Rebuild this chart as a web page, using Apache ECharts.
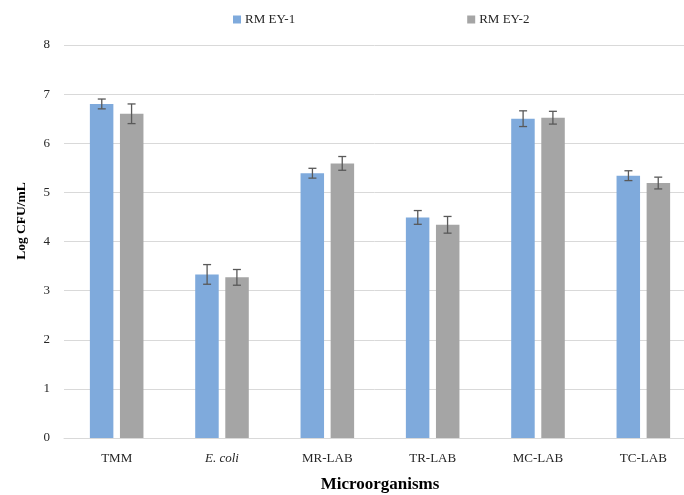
<!DOCTYPE html>
<html>
<head>
<meta charset="utf-8">
<script src="https://cdn.jsdelivr.net/npm/echarts@6/dist/echarts.min.js"></script>
<style>
html,body{margin:0;padding:0;background:#fff;overflow:hidden;}
#chart{width:684px;height:495px;}
</style>
</head>
<body>
<div id="chart"></div>
<script>
var categories = ['TMM', 'E. coli', 'MR-LAB', 'TR-LAB', 'MC-LAB', 'TC-LAB'];
var seriesNames = ['RM EY-1', 'RM EY-2'];
var ey1Values = [6.80, 3.33, 5.39, 4.49, 6.50, 5.34];
var ey1Errors = [0.10, 0.20, 0.10, 0.14, 0.16, 0.10];
var ey2Values = [6.60, 3.27, 5.59, 4.34, 6.52, 5.19];
var ey2Errors = [0.20, 0.16, 0.14, 0.17, 0.13, 0.12];
var yTicks = [0, 1, 2, 3, 4, 5, 6, 7, 8];

var FONT = '"Liberation Serif", "DejaVu Serif", serif';
var BLUE = '#7FAADC';
var GRAY = '#A5A5A5';
var ERR = '#595959';

function errorSeries(vals, errs, offset) {
  return {
    type: 'custom',
    silent: true,
    z: 10,
    data: vals.map(function (v, i) { return [i, v - errs[i], v + errs[i]]; }),
    renderItem: function (params, api) {
      var lo = api.coord([api.value(0), api.value(1)]);
      var hi = api.coord([api.value(0), api.value(2)]);
      var x = lo[0] + offset;
      var cap = 4;
      var st = { stroke: ERR, lineWidth: 1.3 };
      return {
        type: 'group',
        children: [
          { type: 'line', shape: { x1: x, y1: lo[1], x2: x, y2: hi[1] }, style: st },
          { type: 'line', shape: { x1: x - cap, y1: lo[1], x2: x + cap, y2: lo[1] }, style: st },
          { type: 'line', shape: { x1: x - cap, y1: hi[1], x2: x + cap, y2: hi[1] }, style: st }
        ]
      };
    },
    encode: { x: 0, y: [1, 2] }
  };
}

var chart = echarts.init(document.getElementById('chart'), null, { renderer: 'canvas' });
chart.setOption({
  backgroundColor: '#fff',
  animation: false,
  textStyle: { fontFamily: FONT },
  legend: {
    top: 8,
    left: 228,
    itemWidth: 8,
    itemHeight: 8,
    itemGap: 172,
    icon: 'rect',
    data: seriesNames,
    itemStyle: { borderWidth: 0 },
    textStyle: { fontFamily: FONT, fontSize: 13, color: '#262626', padding: [0, 0, 0, -1] }
  },
  grid: { left: 64, top: 45, width: 632, height: 393, containLabel: false, outerBoundsMode: 'none' },
  xAxis: {
    type: 'category',
    data: categories,
    axisLine: { lineStyle: { color: '#D9D9D9', width: 1 } },
    axisTick: { show: false },
    axisLabel: {
      margin: 14,
      fontFamily: FONT,
      fontSize: 13,
      color: '#262626',
      formatter: function (v) { return v === 'E. coli' ? '{i|' + v + '}' : v; },
      rich: { i: { fontStyle: 'italic', fontFamily: FONT, fontSize: 13, color: '#262626' } }
    },
    name: 'Microorganisms',
    nameLocation: 'middle',
    nameGap: 38,
    nameTextStyle: { fontFamily: FONT, fontSize: 17, fontWeight: 'bold', color: '#000' }
  },
  yAxis: {
    type: 'value',
    min: yTicks[0],
    max: yTicks[yTicks.length - 1],
    interval: 1,
    axisLine: { show: false },
    axisTick: { show: false },
    splitLine: { lineStyle: { color: '#D9D9D9', width: 1 } },
    axisLabel: { margin: 14, fontFamily: FONT, fontSize: 13, color: '#262626' }
  },
  graphic: [{
    type: 'text',
    x: 22,
    y: 221,
    rotation: Math.PI / 2,
    style: {
      text: 'Log CFU/mL',
      fontFamily: FONT,
      fontSize: 13.5,
      fontWeight: 'bold',
      fill: '#000',
      align: 'center',
      verticalAlign: 'middle'
    }
  }],
  series: [
    {
      name: seriesNames[0], type: 'bar', data: ey1Values,
      barWidth: 23.5, barGap: '28%',
      itemStyle: { color: BLUE }
    },
    {
      name: seriesNames[1], type: 'bar', data: ey2Values,
      barWidth: 23.5, barGap: '28%',
      itemStyle: { color: GRAY }
    },
    errorSeries(ey1Values, ey1Errors, -14.9),
    errorSeries(ey2Values, ey2Errors, 14.9)
  ]
});
</script>
</body>
</html>
